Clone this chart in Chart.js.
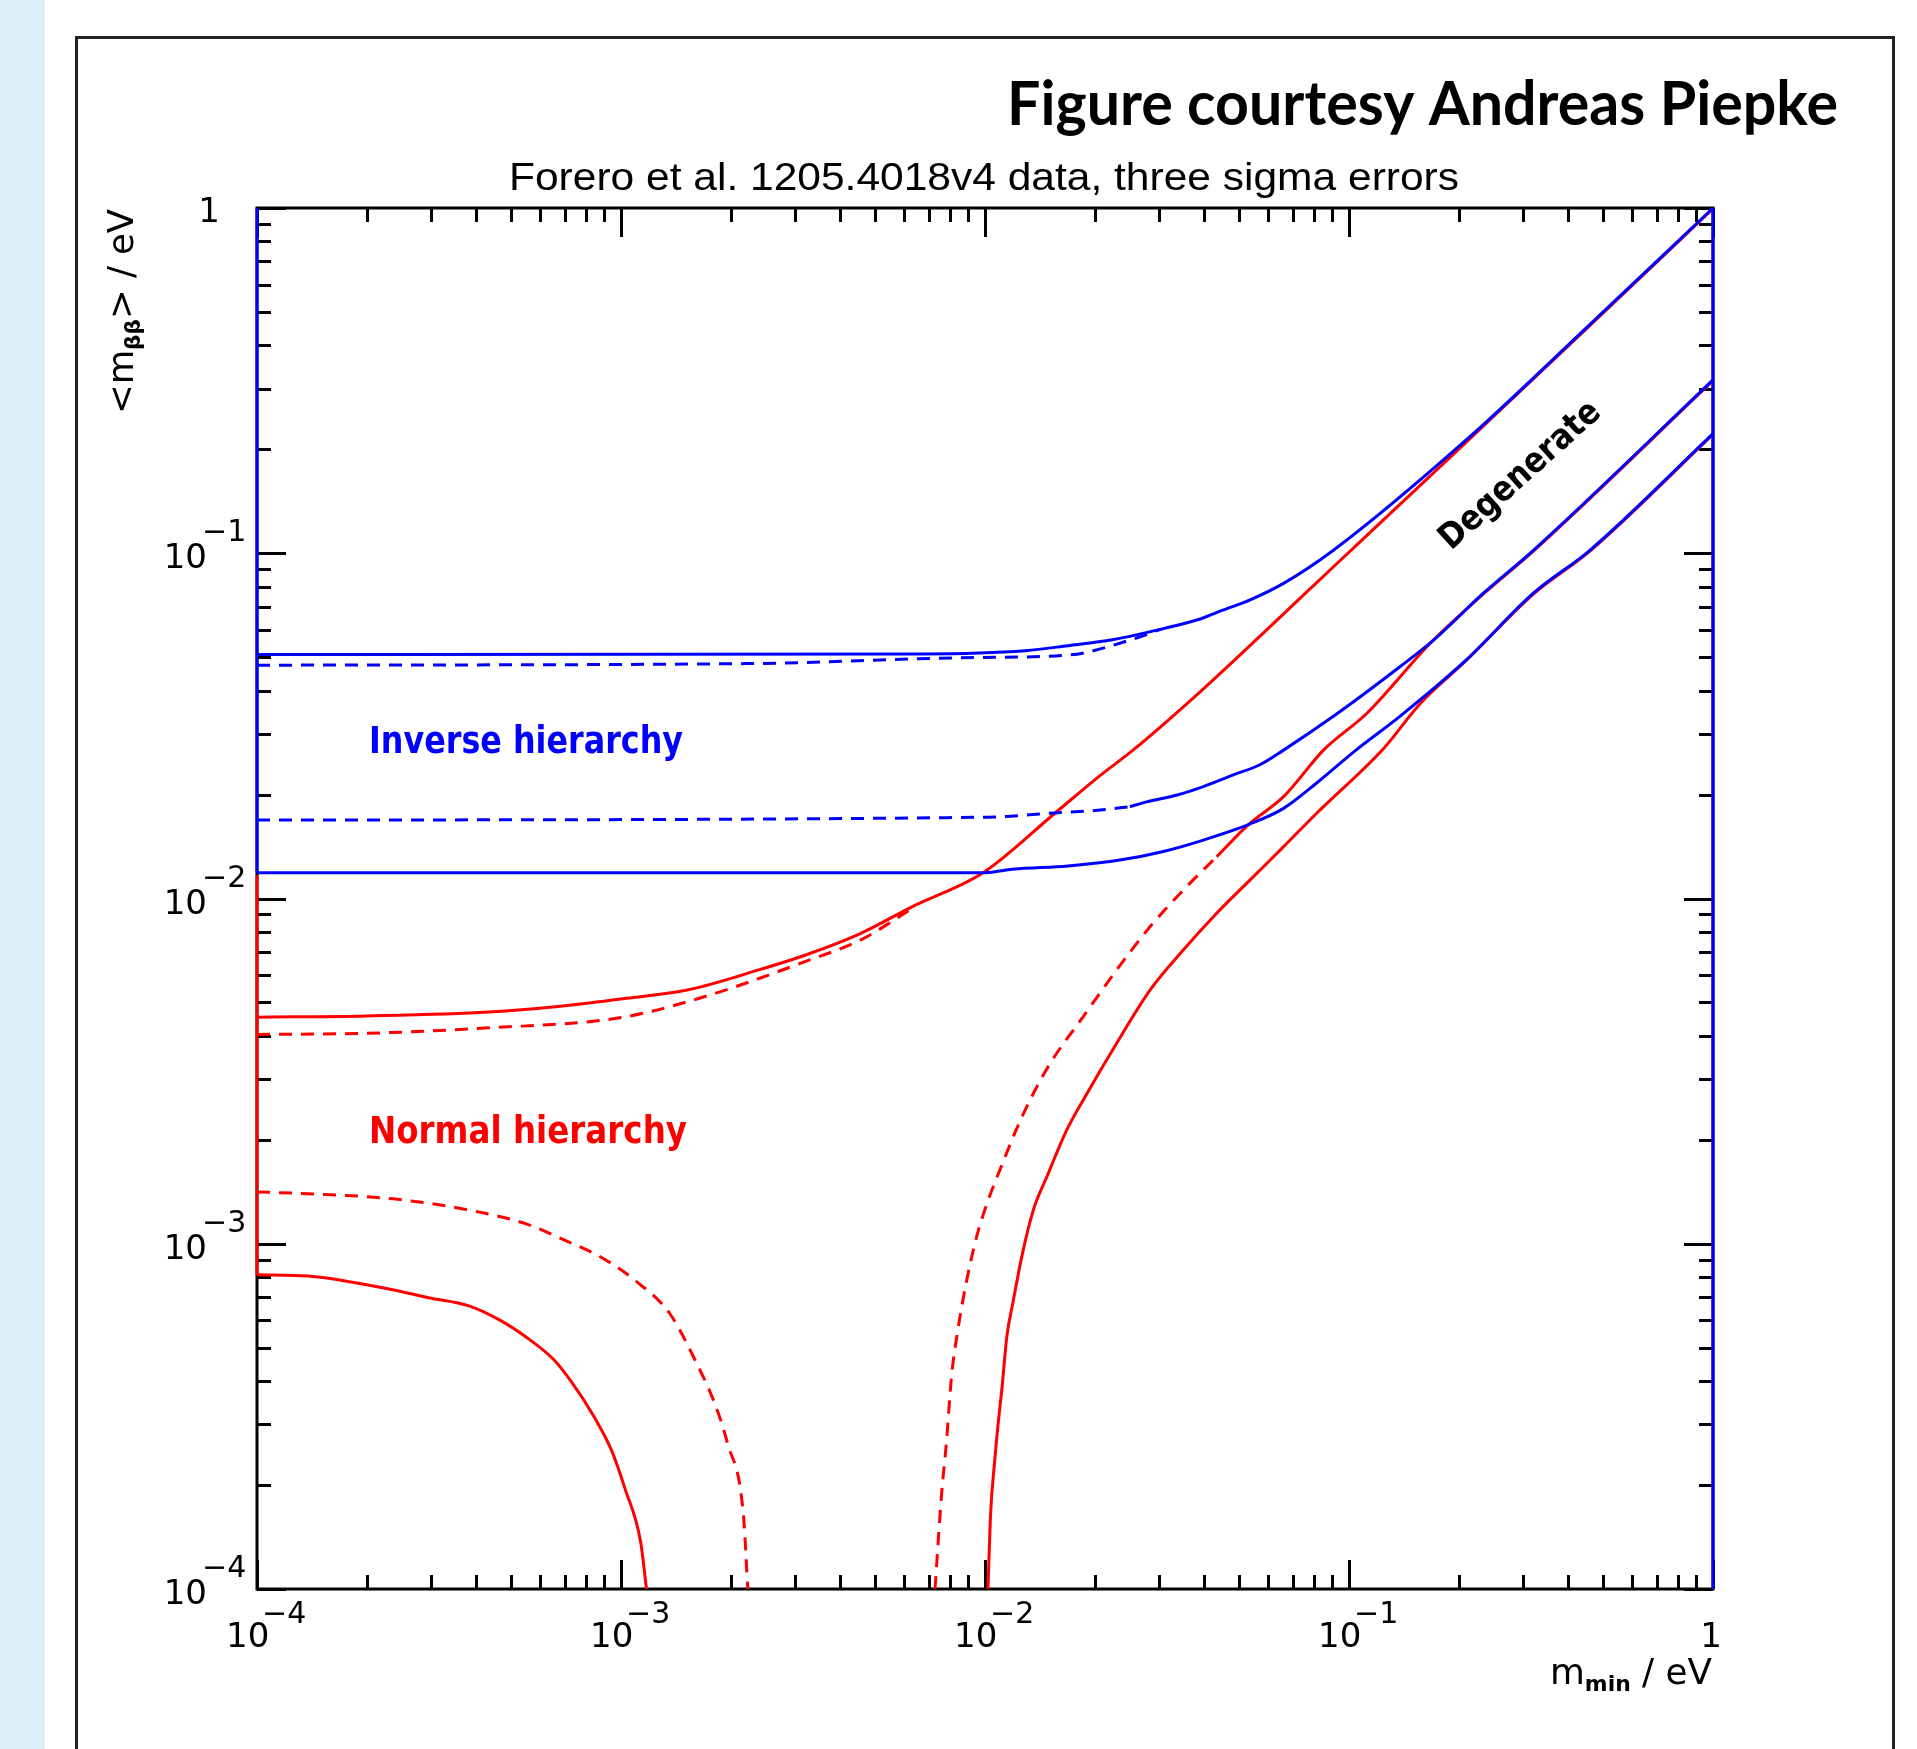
<!DOCTYPE html>
<html lang="en">
<head>
<meta charset="utf-8">
<title>Effective Majorana mass vs lightest neutrino mass</title>
<script src="https://cdn.jsdelivr.net/npm/chart.js@4.4.1/dist/chart.umd.min.js"></script>
<style>
  html, body { margin: 0; padding: 0; background: #ffffff; }
  canvas { display: block; }
</style>
</head>
<body>
<canvas id="chart" width="1917" height="1749"></canvas>
<script>
// values: m_min (eV) and <m_bb> (eV)

// inverse hierarchy, upper bound (solid and dashed)
const mIhMaxS = [1e-4, 6.7e-3, 1.29e-2, 1.69e-2, 2.24e-2, 3.05e-2, 3.9e-2, 4.5e-2, 5.35e-2, 6.61e-2, 9.06e-2, 0.211, 0.457, 1]
const vIhMaxS = [0.0509, 0.0511, 0.0522, 0.0540, 0.0562, 0.0603, 0.0645, 0.0684, 0.0733, 0.0818, 0.102, 0.214, 0.458, 1]
const mIhMaxD = [1e-4, 2.2e-3, 9.4e-3, 1.69e-2, 2.5e-2, 3.05e-2]
const vIhMaxD = [0.0474, 0.0479, 0.0499, 0.0507, 0.0560, 0.0603]

// inverse hierarchy, middle curve (dashed flat part, then drawn solid)
const mIhMidD = [1e-4, 1.02e-2, 1.51e-2, 2.07e-2, 2.5e-2]
const vIhMidD = [0.01687, 0.01720, 0.01766, 0.01803, 0.01845]
const mIhMidS = [2.5e-2, 2.78e-2, 3.37e-2, 3.98e-2, 4.81e-2, 5.69e-2, 6.61e-2, 9.06e-2, 0.138, 0.171, 0.234, 0.321, 1]
const vIhMidS = [0.01845, 0.01905, 0.01995, 0.0211, 0.0228, 0.0244, 0.0269, 0.0337, 0.0469, 0.0561, 0.0766, 0.102, 0.318]

// inverse hierarchy, lower bound
const mIhMin = [1e-4, 1.0e-2, 1.19e-2, 1.69e-2, 2.37e-2, 3.09e-2, 3.98e-2, 5.35e-2, 6.61e-2, 8.15e-2, 0.1045, 0.138, 0.210, 0.321, 0.459, 1]
const vIhMin = [0.01188, 0.01188, 0.01216, 0.01242, 0.01294, 0.01368, 0.01476, 0.01644, 0.01824, 0.0216, 0.0269, 0.0337, 0.0491, 0.0766, 0.102, 0.222]

// normal hierarchy, upper bound
const mNhMaxS = [1e-4, 2.0e-4, 4.34e-4, 7.1e-4, 1.035e-3, 1.52e-3, 2.39e-3, 3.30e-3, 4.56e-3, 6.30e-3, 9.9e-3, 1.556e-2, 2.07e-2, 2.55e-2, 3.90e-2, 5.94e-2, 7.33e-2, 0.1028, 0.211, 0.457, 1]
const vNhMaxS = [0.00453, 0.00457, 0.00469, 0.00490, 0.00514, 0.00543, 0.00621, 0.00693, 0.00793, 0.00946, 0.01189, 0.01766, 0.0227, 0.0269, 0.0397, 0.0600, 0.0740, 0.1035, 0.211, 0.455, 0.995]
const mNhMaxD = [1e-4, 2.0e-4, 4.34e-4, 1.0e-3, 1.64e-3, 3.30e-3, 4.56e-3, 6.30e-3]
const vNhMaxD = [0.00404, 0.00407, 0.00422, 0.00452, 0.00514, 0.00664, 0.00759, 0.00935]

// normal hierarchy, falling branches on the left
const mNhLoS = [1e-4, 1.38e-4, 1.83e-4, 2.36e-4, 2.96e-4, 3.82e-4, 4.66e-4, 5.51e-4, 6.53e-4, 7.31e-4, 8.41e-4, 9.42e-4, 1.026e-3, 1.132e-3, 1.175e-3]
const vNhLoS = [8.13e-4, 8.06e-4, 7.74e-4, 7.36e-4, 6.98e-4, 6.61e-4, 6.0e-4, 5.35e-4, 4.62e-4, 3.98e-4, 3.17e-4, 2.52e-4, 1.95e-4, 1.37e-4, 1.0e-4]
const mNhLoD = [1e-4, 1.38e-4, 2.36e-4, 3.93e-4, 5.51e-4, 6.92e-4, 8.91e-4, 1.117e-3, 1.361e-3, 1.611e-3, 1.82e-3, 1.96e-3, 2.17e-3, 2.23e-3]
const vNhLoD = [1.413e-3, 1.396e-3, 1.349e-3, 1.245e-3, 1.140e-3, 1.030e-3, 9.08e-4, 7.69e-4, 6.28e-4, 4.52e-4, 3.39e-4, 2.65e-4, 1.63e-4, 1.0e-4]

// normal hierarchy, rising branches on the right
const mNhUpD = [7.29e-3, 7.60e-3, 7.83e-3, 8.09e-3, 8.45e-3, 8.91e-3, 9.48e-3, 1.021e-2, 1.099e-2, 1.219e-2, 1.330e-2, 1.510e-2, 1.862e-2, 2.30e-2, 2.84e-2, 3.51e-2, 4.33e-2]
const vNhUpD = [1e-4, 1.89e-4, 2.64e-4, 4.12e-4, 5.75e-4, 7.85e-4, 1.047e-3, 1.340e-3, 1.637e-3, 2.14e-3, 2.61e-3, 3.33e-3, 4.55e-3, 6.21e-3, 8.28e-3, 1.059e-2, 1.321e-2]
const mNhUpDS = [4.33e-2, 5.35e-2, 6.61e-2, 8.51e-2, 0.112, 0.167, 0.234, 0.321, 1]
const vNhUpDS = [1.321e-2, 1.652e-2, 1.972e-2, 2.69e-2, 3.44e-2, 5.48e-2, 7.62e-2, 0.1015, 0.316]
const mNhUpS = [1.019e-2, 1.035e-2, 1.064e-2, 1.089e-2, 1.112e-2, 1.148e-2, 1.197e-2, 1.262e-2, 1.358e-2, 1.479e-2, 1.679e-2, 1.862e-2, 2.30e-2, 2.84e-2, 3.51e-2, 4.33e-2, 5.35e-2, 6.61e-2, 8.15e-2, 0.1245, 0.157, 0.210, 0.321, 0.459, 1]
const vNhUpS = [1e-4, 1.62e-4, 2.37e-4, 3.08e-4, 3.77e-4, 5.38e-4, 6.87e-4, 9.18e-4, 1.253e-3, 1.563e-3, 2.14e-3, 2.61e-3, 3.81e-3, 5.43e-3, 7.10e-3, 9.06e-3, 1.132e-2, 1.413e-2, 1.766e-2, 2.72e-2, 3.67e-2, 4.89e-2, 7.62e-2, 0.1015, 0.221]

// band edges drawn on the frame
const mEdgeBlue = [1e-4, 1e-4], vEdgeBlue = [1, 0.01188]
const mEdgeRed = [1e-4, 1e-4], vEdgeRed = [0.0117, 8.13e-4]
const mEdgeRight = [1, 1], vEdgeRight = [1e-4, 1]

// axis ticks
const majorTicks = [1e-4, 1e-3, 1e-2, 1e-1, 1]
const tickExps = ['\u22124', '\u22123', '\u22122', '\u22121', '']
const minorSteps = [2, 3, 4, 5, 6, 7, 8, 9]

const RED = '#ff0000'
const BLUE = '#0000ff'
const DASH = [13, 9]

function pts(ms, vs) {
    return ms.map((m, i) => ({ x: m, y: vs[i] }))
}

function line(ms, vs, color, dashed) {
    return {
        data: pts(ms, vs),
        borderColor: color,
        borderWidth: 3,
        borderDash: dashed ? DASH : [],
        pointRadius: 0,
        showLine: true,
        cubicInterpolationMode: 'monotone',
        clip: false
    }
}

// fit text to a width, keeping the glyph height from the font size
function fitText(c, txt, x, y, w, font, color) {
    c.save()
    c.font = font
    c.fillStyle = color
    c.textBaseline = 'alphabetic'
    c.textAlign = 'left'
    const mw = c.measureText(txt).width
    c.translate(x, y)
    c.scale(w / mw, 1)
    c.fillText(txt, 0, 0)
    c.restore()
}

// text made of pieces, some as subscripts; fitted to a width
function drawPieces(c, pieces, x, y, w, color) {
    c.save()
    c.fillStyle = color
    c.textBaseline = 'alphabetic'
    c.textAlign = 'left'
    let total = 0
    for (const p of pieces) { c.font = p.font; total += c.measureText(p.t).width }
    c.translate(x, y)
    c.scale(w / total, 1)
    let cx = 0
    for (const p of pieces) {
        c.font = p.font
        c.fillText(p.t, cx, p.dy || 0)
        cx += c.measureText(p.t).width
    }
    c.restore()
}

const pageArt = {
    id: 'pageArt',
    beforeDraw(chart) {
        const c = chart.ctx
        c.save()
        c.fillStyle = '#ffffff'
        c.fillRect(0, 0, chart.width, chart.height)
        c.fillStyle = '#ddf0fa'
        c.fillRect(0, 0, 45, chart.height)
        c.strokeStyle = '#222222'
        c.lineWidth = 3
        c.strokeRect(76.5, 37.5, 1817, 1800)
        c.restore()
    },
    beforeDatasetsDraw(chart) {
        const c = chart.ctx
        const a = chart.chartArea
        const xs = chart.scales.x, ys = chart.scales.y
        c.save()
        c.strokeStyle = '#000000'
        c.lineWidth = 3
        c.strokeRect(a.left, a.top, a.right - a.left, a.bottom - a.top)

        const ticks = []
        majorTicks.forEach((t, i) => {
            ticks.push({ v: t, len: 29 })
            if (i < majorTicks.length - 1) minorSteps.forEach(k => ticks.push({ v: t * k, len: 14 }))
        })
        c.lineWidth = 3
        c.beginPath()
        for (const t of ticks) {
            const px = Math.round(xs.getPixelForValue(t.v)) + 0.5
            c.moveTo(px, a.bottom); c.lineTo(px, a.bottom - t.len)
            c.moveTo(px, a.top); c.lineTo(px, a.top + t.len)
            const py = Math.round(ys.getPixelForValue(t.v)) + 0.5
            c.moveTo(a.left, py); c.lineTo(a.left + t.len, py)
            c.moveTo(a.right, py); c.lineTo(a.right - t.len, py)
        }
        c.stroke()
        c.restore()
    },
    afterDraw(chart) {
        const c = chart.ctx
        const a = chart.chartArea
        const xs = chart.scales.x, ys = chart.scales.y
        c.save()
        c.fillStyle = '#000000'
        c.textBaseline = 'alphabetic'
        const base = '34px "DejaVu Sans"'
        const sup = '30px "DejaVu Sans"'

        // tick labels, x
        majorTicks.forEach((t, i) => {
            const px = xs.getPixelForValue(t)
            if (tickExps[i] === '') {
                c.font = base; c.textAlign = 'center'
                c.fillText('1', px - 2, a.bottom + 58)
            } else {
                c.font = base; c.textAlign = 'left'
                c.fillText('10', px - 31, a.bottom + 58)
                c.font = sup
                c.fillText(tickExps[i], px + 5, a.bottom + 34)
            }
        })
        // tick labels, y
        majorTicks.forEach((t, i) => {
            const py = ys.getPixelForValue(t)
            if (tickExps[i] === '') {
                c.font = base; c.textAlign = 'right'
                c.fillText('1', a.left - 37, py + 14)
            } else {
                c.font = base; c.textAlign = 'right'
                c.fillText('10', a.left - 50, py + 15)
                c.font = sup; c.textAlign = 'left'
                c.fillText(tickExps[i], a.left - 55, py - 12)
            }
        })
        c.restore()

        // title and corner note
        fitText(c, 'Forero et al. 1205.4018v4 data, three sigma errors', 509, 190, 950, '38px "Liberation Sans"', '#000000')
        fitText(c, 'Figure courtesy Andreas Piepke', 1007, 125, 831, 'bold 62px Lato', '#000000')

        // axis titles
        drawPieces(c, [
            { t: 'm', font: '36px "DejaVu Sans"' },
            { t: 'min', font: 'bold 22px "DejaVu Sans"', dy: 7 },
            { t: ' / eV', font: '36px "DejaVu Sans"' }
        ], 1550, 1684, 162, '#000000')

        c.save()
        c.translate(133, 414)
        c.rotate(-Math.PI / 2)
        drawPieces(c, [
            { t: '<m', font: '36px "DejaVu Sans"' },
            { t: '\u03b2\u03b2', font: 'bold 22px "DejaVu Sans"', dy: 7 },
            { t: '> / eV', font: '36px "DejaVu Sans"' }
        ], 0, 0, 205, '#000000')
        c.restore()

        // region labels
        fitText(c, 'Inverse hierarchy', 369, 753, 314, 'bold 37px "DejaVu Sans"', BLUE)
        fitText(c, 'Normal hierarchy', 369, 1143, 318, 'bold 37px "DejaVu Sans"', RED)

        c.save()
        c.translate(1451, 551)
        c.rotate(-42 * Math.PI / 180)
        fitText(c, 'Degenerate', 0, 0, 204, 'bold 35px "DejaVu Sans"', '#000000')
        c.restore()
    }
}

// Chart.js paints the first dataset last, so the blue curves come first
new Chart(document.getElementById('chart'), {
    type: 'scatter',
    data: {
        datasets: [
            line(mEdgeRight, vEdgeRight, BLUE, false),
            line(mEdgeBlue, vEdgeBlue, BLUE, false),
            line(mIhMaxS, vIhMaxS, BLUE, false),
            line(mIhMaxD, vIhMaxD, BLUE, true),
            line(mIhMidS, vIhMidS, BLUE, false),
            line(mIhMidD, vIhMidD, BLUE, true),
            line(mIhMin, vIhMin, BLUE, false),
            line(mEdgeRed, vEdgeRed, RED, false),
            line(mNhMaxS, vNhMaxS, RED, false),
            line(mNhMaxD, vNhMaxD, RED, true),
            line(mNhLoS, vNhLoS, RED, false),
            line(mNhLoD, vNhLoD, RED, true),
            line(mNhUpS, vNhUpS, RED, false),
            line(mNhUpDS, vNhUpDS, RED, false),
            line(mNhUpD, vNhUpD, RED, true)
        ]
    },
    options: {
        responsive: false,
        animation: false,
        devicePixelRatio: 1,
        layout: { padding: { left: 257, right: 204, top: 208, bottom: 160 } },
        plugins: { legend: { display: false }, tooltip: { enabled: false } },
        scales: {
            x: { type: 'logarithmic', min: 1e-4, max: 1, display: false },
            y: { type: 'logarithmic', min: 1e-4, max: 1, display: false }
        }
    },
    plugins: [pageArt]
})
</script>
</body>
</html>
